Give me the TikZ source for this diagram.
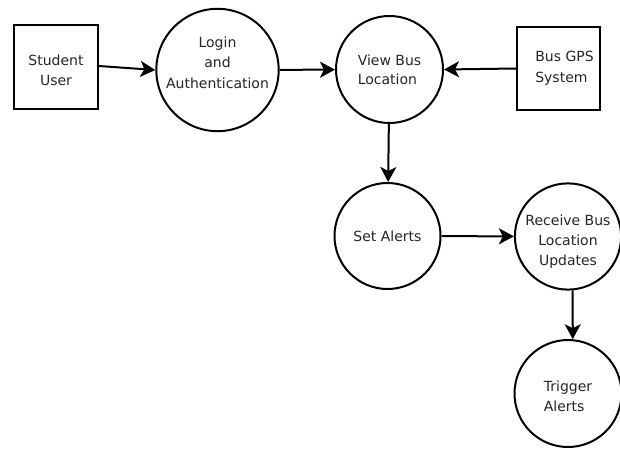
\documentclass[tikz,border=0pt]{standalone}
\usepackage{fontspec}
\setmainfont{DejaVu Sans}
\usetikzlibrary{arrows.meta}
\tikzset{
  proc/.style={circle, draw=black, line width=2pt, fill=white, inner sep=0pt, align=center, text=black!85},
  ent/.style={rectangle, draw=black, line width=2pt, fill=white, inner sep=0pt, align=center, text=black!85},
  flow/.style={line width=2pt, -{Stealth[length=15pt, width=16pt, inset=4pt]}},
}
\begin{document}
\begin{tikzpicture}[x=1pt, y=-1pt, font=\fontsize{14}{20}\selectfont]
\useasboundingbox (0,0) rectangle (620,449);
\node[ent, minimum width=84pt, minimum height=84pt] (stu) at (56,67) {\rule{0pt}{16.5pt}Student\\User};
\node[ent, minimum width=83pt, minimum height=83pt, align=left] (gps) at (558.5,68.5) {\hspace*{12pt}Bus GPS\\[1pt]\hspace*{12pt}System};
\node[proc, minimum size=122pt] (login) at (217.5,70) {Login\\[0.5pt]and\\[0.5pt]Authentication\rule[-15pt]{0pt}{15pt}};
\node[proc, minimum size=107pt, align=left] (view) at (389.5,69.5) {View Bus\\[-1pt]Location};
\node[proc, minimum size=106pt] (set) at (387.5,236) {Set Alerts};
\node[proc, minimum size=103pt] (rec) at (568,236.5) {\rule{0pt}{21pt}Receive Bus\\Location\\Updates};
\node[proc, minimum size=107pt, align=left] (trig) at (568,393.5) {\rule{0pt}{16pt}Trigger\\Alerts};
\draw[flow] ([yshift=1pt]stu.east) -- (login.west);
\draw[flow] (login) -- (view);
\draw[flow] (gps.west) -- (view.east);
\draw[flow] (view) -- (set);
\draw[flow] (set) -- (rec);
\draw[flow] (rec.-85.5) -- (trig.85.7);
\end{tikzpicture}
\end{document}
